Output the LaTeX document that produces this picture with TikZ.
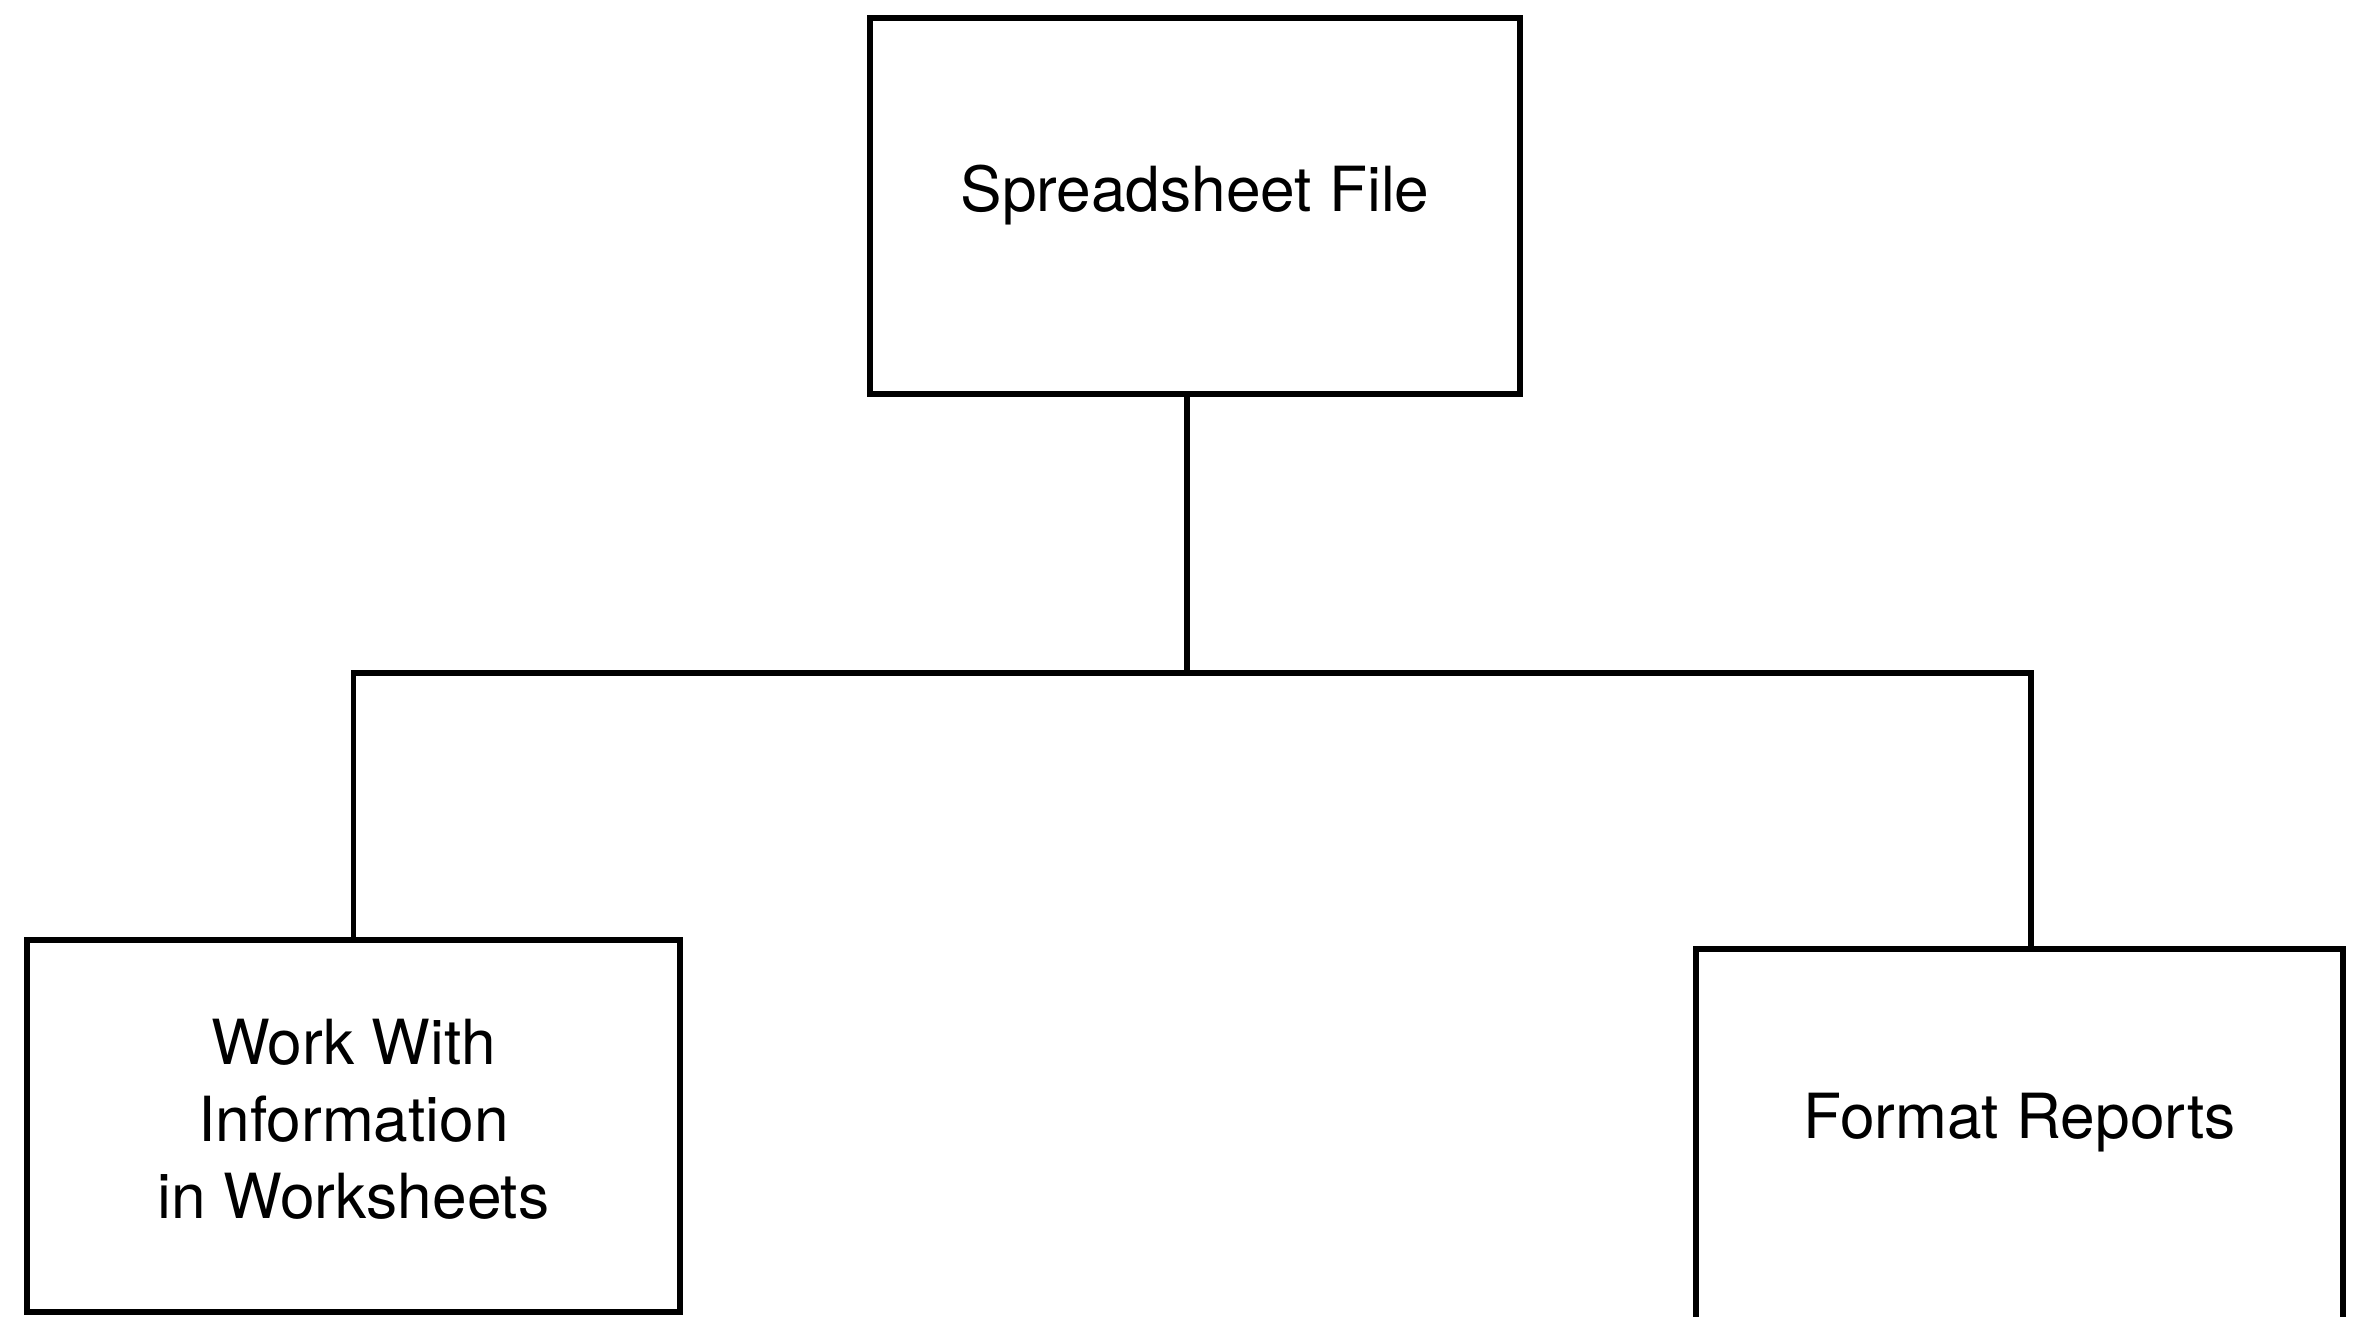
\documentclass[tikz,border=0pt]{standalone}
\usepackage{fontspec}
\setmainfont{TeX Gyre Heros}
\begin{document}
\begin{tikzpicture}[
  box/.style={draw=black, line width=1.6pt, rectangle, align=center,
    font=\fontsize{17.7pt}{22pt}\selectfont, inner sep=0pt},
  conn/.style={draw=black, line width=1.6pt}
]
\useasboundingbox (0,0) rectangle (23.59,-13.16);
\clip (0,0) rectangle (23.59,-13.16);
\node[box, minimum width=6.5cm, minimum height=3.76cm] (top) at (11.95,-2.06)
  {\raisebox{0.36cm}{Spreadsheet File}};
\node[box, minimum width=6.53cm, minimum height=3.72cm] (left) at (3.535,-11.26)
  {\raisebox{0.12cm}{\begin{tabular}{@{}c@{}}Work With\\Information\\in Worksheets\end{tabular}}};
\node[box, minimum width=6.47cm, minimum height=3.9cm] (right) at (20.195,-11.44)
  {\raisebox{0.56cm}{Format Reports}};
\coordinate (j) at (11.87,-6.73);
\coordinate (rj) at (20.31,-6.73);
\draw[conn] (top.south -| j) -- (j);
\draw[conn] (left.north) |- (j) -- (rj) -- (rj |- right.north);
\end{tikzpicture}
\end{document}
